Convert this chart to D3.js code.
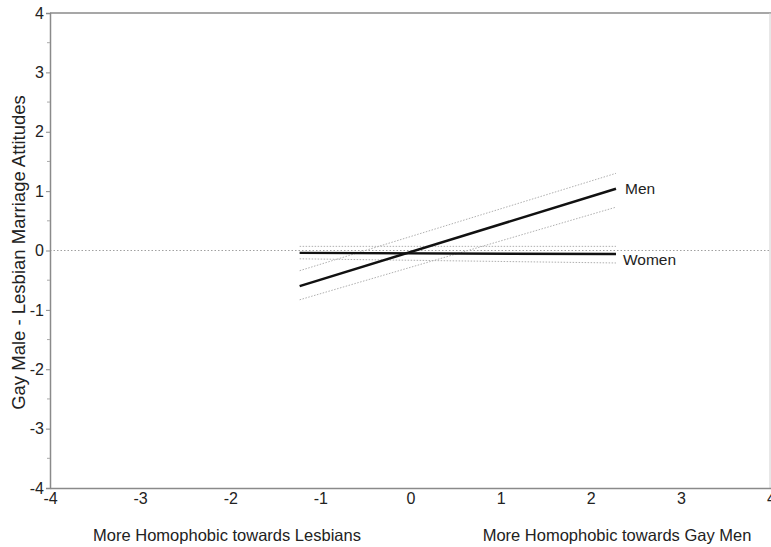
<!DOCTYPE html>
<html>
<head>
<meta charset="utf-8">
<script src="https://cdn.jsdelivr.net/npm/d3@7"></script>
<style>
  body { margin: 0; background: #fff; }
  text { font-family: "Liberation Sans", Arial, sans-serif; fill: #222; }
</style>
</head>
<body>
<div id="main"></div>
<script>
// simple slopes, predictor range
const xEnds = [-1.23, 2.28];
const menLine = [-0.60, 1.04];
const menUpper = [-0.34, 1.30];
const menLower = [-0.83, 0.73];
const womenLine = [-0.04, -0.06];
const womenUpper = [0.07, 0.07];
const womenLower = [-0.14, -0.21];

const xTicks = [-4, -3, -2, -1, 0, 1, 2, 3, 4];
const yTicks = [-4, -3, -2, -1, 0, 1, 2, 3, 4];
const yMinor = [-3.5, -2.5, -1.5, -0.5, 0.5, 1.5, 2.5, 3.5];

const width = 771, height = 547;
const plotLeft = 50, plotRight = 771, plotTop = 13, plotBottom = 488;
const font = '"Liberation Sans", Arial, sans-serif';
const fmt = d => String(d); // plain hyphen minus like the original

const svg = d3.select('#main').append('svg')
    .attr('width', width)
    .attr('height', height);

const x = d3.scaleLinear().domain([-4, 4]).range([plotLeft, plotRight]);
const y = d3.scaleLinear().domain([-4, 4]).range([plotBottom, plotTop]);

// frame
svg.append('line')
    .attr('x1', plotLeft).attr('x2', plotRight)
    .attr('y1', plotTop).attr('y2', plotTop)
    .attr('stroke', '#8a8a8a').attr('stroke-width', 1.5);
svg.append('line')
    .attr('x1', 770).attr('x2', 770)
    .attr('y1', plotTop).attr('y2', plotBottom)
    .attr('stroke', '#d0d0d0').attr('stroke-width', 1);

// zero reference line
svg.append('line')
    .attr('x1', plotLeft).attr('x2', 770)
    .attr('y1', y(0)).attr('y2', y(0))
    .attr('stroke', '#a0a0a0').attr('stroke-width', 1)
    .attr('stroke-dasharray', '1.5,2');

// y axis
const yAxis = svg.append('g')
    .attr('transform', `translate(${plotLeft},0)`)
    .call(d3.axisLeft(y).tickValues(yTicks).tickSize(4).tickPadding(2).tickFormat(fmt));
yAxis.select('.domain').attr('stroke', '#8a8a8a').attr('stroke-width', 1.5);
yAxis.selectAll('.tick line').attr('stroke', '#8a8a8a');
yAxis.selectAll('.tick text').attr('font-size', 16).attr('font-family', font).attr('fill', '#222');
svg.append('g')
    .selectAll('line')
    .data(yMinor)
    .enter()
    .append('line')
    .attr('x1', plotLeft - 3).attr('x2', plotLeft)
    .attr('y1', d => y(d)).attr('y2', d => y(d))
    .attr('stroke', '#aaa');

// x axis
const xAxis = svg.append('g')
    .attr('transform', `translate(0,${plotBottom})`)
    .call(d3.axisBottom(x).tickValues(xTicks).tickSize(0).tickPadding(5).tickFormat(fmt));
xAxis.select('.domain').attr('stroke', '#8a8a8a').attr('stroke-width', 1.5);
xAxis.selectAll('.tick text').attr('font-size', 16).attr('font-family', font).attr('fill', '#222');

// confidence bands (dotted)
const bands = [menUpper, menLower, womenUpper, womenLower];
const line = d3.line().x(d => x(d[0])).y(d => y(d[1]));
svg.append('g')
    .selectAll('path')
    .data(bands)
    .enter()
    .append('path')
    .attr('d', d => line(xEnds.map((v, i) => [v, d[i]])))
    .attr('fill', 'none')
    .attr('stroke', '#b0b0b0')
    .attr('stroke-width', 1)
    .attr('stroke-dasharray', '1.5,1.5');

// slopes
svg.append('g')
    .selectAll('path')
    .data([menLine, womenLine])
    .enter()
    .append('path')
    .attr('d', d => line(xEnds.map((v, i) => [v, d[i]])))
    .attr('fill', 'none')
    .attr('stroke', '#111')
    .attr('stroke-width', 2.5);

// line labels
svg.append('text')
    .attr('x', x(xEnds[1]) + 9).attr('y', y(menLine[1]) + 5)
    .attr('font-size', 15.5)
    .text('Men');
svg.append('text')
    .attr('x', x(xEnds[1]) + 7).attr('y', y(womenLine[1]) + 11)
    .attr('font-size', 15.5)
    .text('Women');

// axis titles
svg.append('text')
    .attr('x', 227).attr('y', 541)
    .attr('text-anchor', 'middle')
    .attr('font-size', 16.5)
    .text('More Homophobic towards Lesbians');
svg.append('text')
    .attr('x', 617).attr('y', 541)
    .attr('text-anchor', 'middle')
    .attr('font-size', 16.5)
    .text('More Homophobic towards Gay Men');
svg.append('text')
    .attr('transform', `translate(25,${y(0) + 2}) rotate(-90)`)
    .attr('text-anchor', 'middle')
    .attr('font-size', 18.5)
    .text('Gay Male - Lesbian Marriage Attitudes');
</script>
</body>
</html>
